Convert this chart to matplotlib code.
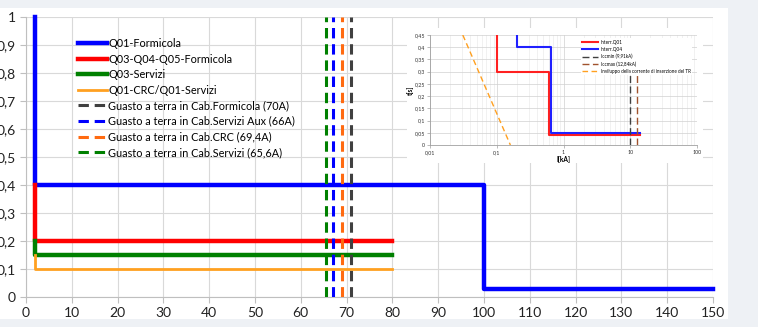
import numpy as np
import matplotlib
matplotlib.use("Agg")
import matplotlib.pyplot as plt
from matplotlib.patches import Rectangle
from matplotlib.ticker import FuncFormatter, LogLocator, MultipleLocator

plt.rcParams['font.family'] = ['Lato', 'DejaVu Sans']

# Main chart: selectivity curves (x in A, y in s)
q01_form_x = [2, 2, 100, 100, 150]
q01_form_y = [1, 0.4, 0.4, 0.03, 0.03]
q03_form_x = [2, 2, 80]
q03_form_y = [0.4, 0.2, 0.2]
q03_serv_x = [2, 2, 80]
q03_serv_y = [0.2, 0.15, 0.15]
q01_crc_x = [2, 2, 80]
q01_crc_y = [0.15, 0.1, 0.1]

# ground fault vertical markers, positions as drawn
fault_labels = ["Guasto a terra in Cab.Formicola (70A)",
                "Guasto a terra in Cab.Servizi Aux (66A)",
                "Guasto a terra in Cab.CRC (69,4A)",
                "Guasto a terra in Cab.Servizi (65,6A)"]
fault_x = [71, 67, 69, 65.6]
fault_colors = ['#404040', '#0000ff', '#ff6a10', '#008000']

# Inset: t-I curves (I in kA, t in s)
q01_i = [0.1, 0.1, 0.6, 0.6, 14]
q01_t = [0.45, 0.3, 0.3, 0.04, 0.04]
q04_i = [0.2, 0.2, 0.65, 0.65, 14]
q04_t = [0.45, 0.4, 0.4, 0.05, 0.05]
icc_min = 9.91
icc_max = 12.84
icc_top = 0.3
env_i = [0.031, 0.16]
env_t = [0.45, 0.0]


def comma(v, pos=None):
    return ('%g' % v).replace('.', ',')


W, H = 758, 327
fig = plt.figure(figsize=(W / 100, H / 100), dpi=100, facecolor='#eef1f5')
fig.patches.append(Rectangle((0, 8 / H), 728 / W, 311 / H, transform=fig.transFigure,
                             facecolor='white', edgecolor='none', zorder=-5))

ax = fig.add_axes([26 / W, 30 / H, 687 / W, 280 / H])
ax.set_zorder(1)
ax.set_facecolor('none')
ax.plot(q01_form_x, q01_form_y, color='#0000ff', lw=3.2, label='Q01-Formicola', clip_on=False)
ax.plot(q03_form_x, q03_form_y, color='#ff0000', lw=3.2, label='Q03-Q04-Q05-Formicola')
ax.plot(q03_serv_x, q03_serv_y, color='#008000', lw=3.2, label='Q03-Servizi')
ax.plot(q01_crc_x, q01_crc_y, color='#ffa020', lw=2.0, label='Q01-CRC/Q01-Servizi')
for xv, c, lab in zip(fault_x, fault_colors, fault_labels):
    ax.plot([xv, xv], [0, 1], color=c, lw=2.2, ls=(0, (3.4, 1.9)), label=lab, zorder=4)

ax.set_xlim(0, 150)
ax.set_ylim(0, 1)
ax.xaxis.set_major_locator(MultipleLocator(10))
ax.yaxis.set_major_locator(MultipleLocator(0.1))
ax.yaxis.set_major_formatter(FuncFormatter(comma))
ax.grid(True, color='#d9d9d9', lw=0.8)
ax.set_axisbelow(True)
for s in ['top', 'right']:
    ax.spines[s].set_visible(False)
for s in ['left', 'bottom']:
    ax.spines[s].set_color('#bfbfbf')
ax.tick_params(colors='#bfbfbf', labelcolor='#222222', labelsize=10, length=4, direction='out')
ax.legend(loc='upper left', bbox_to_anchor=(0.075, 0.925), frameon=False, fontsize=7.8,
          handlelength=2.7, handletextpad=0.15, labelspacing=0.42, borderaxespad=0, borderpad=0)

# inset picture on its own white card
card = fig.add_axes([407 / W, (H - 163) / H, 296 / W, 135 / H])
card.set_zorder(2)
card.set_axis_off()
card.add_patch(Rectangle((0, 0), 1, 1, transform=card.transAxes, facecolor='white', edgecolor='none'))

ins = fig.add_axes([430 / W, (H - 145) / H, 267 / W, 110 / H])
ins.set_zorder(3)
ins.plot(q01_i, q01_t, color='#ff2020', lw=1.5, label='Interr.Q01')
ins.plot(q04_i, q04_t, color='#2020ff', lw=1.5, label='Interr.Q04')
ins.plot([icc_min, icc_min], [0, icc_top], color='#404040', lw=1.0, ls=(0, (5, 2.5)), label='Iccmin (9,91kA)')
ins.plot([icc_max, icc_max], [0, icc_top], color='#a0522d', lw=1.0, ls=(0, (5, 2.5)), label='Iccmax (12,84kA)')
ins.plot(env_i, env_t, color='#ffa020', lw=1.0, ls=(0, (4, 2.5)),
         label='Inviluppo della corrente di inserzione del TR')
ins.set_xscale('log')
ins.set_xlim(0.01, 100)
ins.set_ylim(0, 0.45)
ins.yaxis.set_major_locator(MultipleLocator(0.05))
ins.yaxis.set_major_formatter(FuncFormatter(comma))
ins.xaxis.set_major_locator(LogLocator(base=10))
ins.xaxis.set_minor_locator(LogLocator(base=10, subs=np.arange(2, 10)))
ins.xaxis.set_major_formatter(FuncFormatter(comma))
ins.grid(True, which='major', color='#d0d0d0', lw=0.5)
ins.grid(True, which='minor', axis='x', color='#e6e6e6', lw=0.4)
for s in ['top', 'right']:
    ins.spines[s].set_visible(False)
for s in ['left', 'bottom']:
    ins.spines[s].set_color('#a0a0a0')
    ins.spines[s].set_linewidth(0.6)
ins.tick_params(which='both', colors='#a0a0a0', labelcolor='#333333', labelsize=3.8,
                length=2, width=0.5, pad=1.5)
ins.tick_params(which='minor', length=0)
ins.set_xlabel('I[kA]', fontsize=4.8, fontweight='bold', labelpad=1)
ins.set_ylabel('t[s]', fontsize=4.8, fontweight='bold', labelpad=1)
ins.legend(loc='upper right', bbox_to_anchor=(0.99, 0.99), fontsize=3.3, frameon=True,
           facecolor='white', edgecolor='none', framealpha=1, handlelength=3.5,
           handletextpad=0.5, labelspacing=0.45, borderpad=0.3)

fig.savefig('out.png', dpi=100, facecolor=fig.get_facecolor())
